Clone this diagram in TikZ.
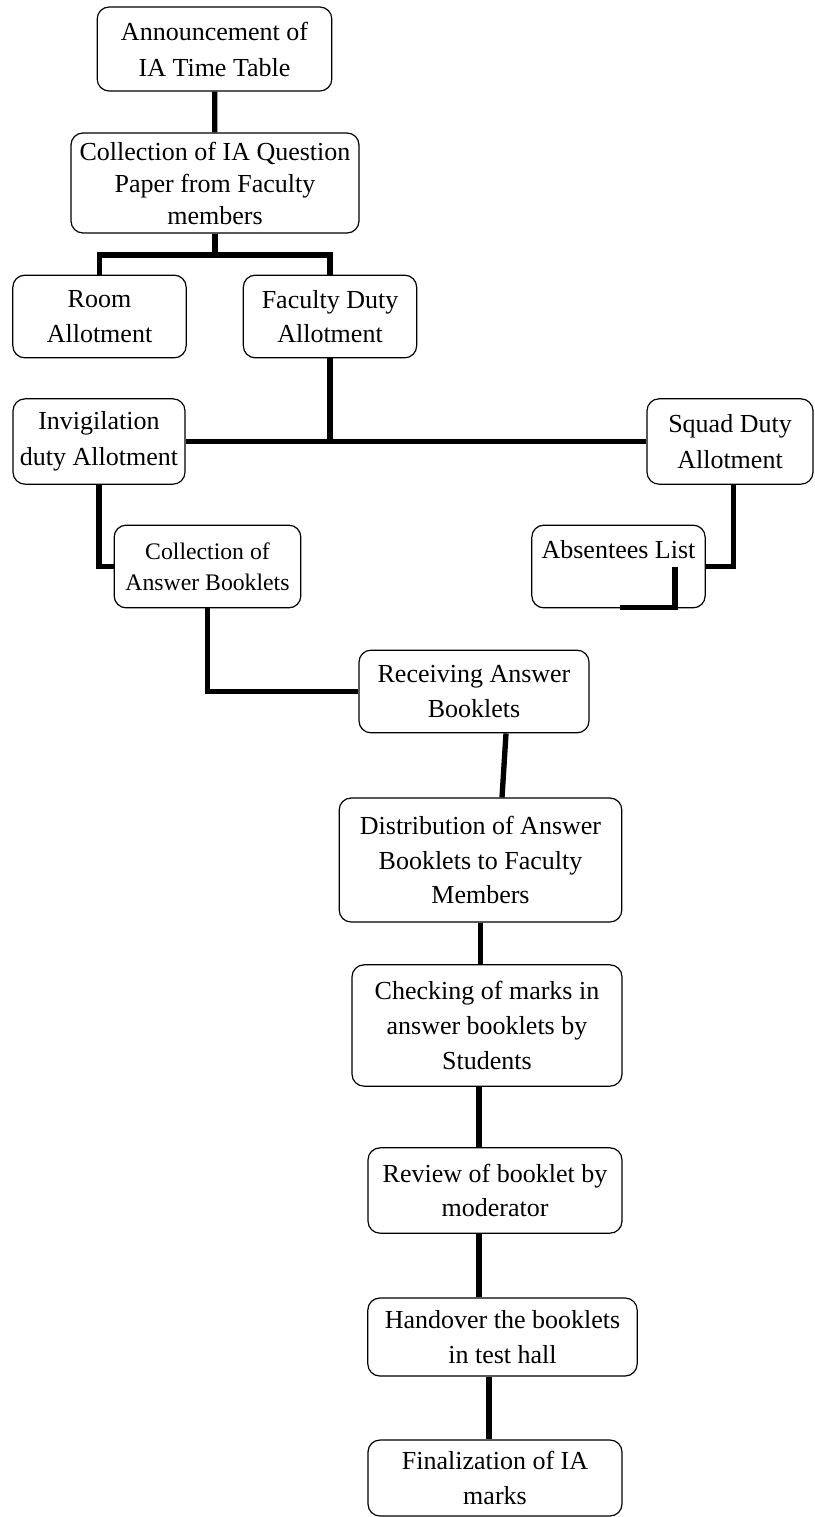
\documentclass[tikz,border=0pt]{standalone}
\usepackage{fontspec}
\setmainfont{Liberation Serif}
\usepackage{tikz}

\begin{document}
\begin{tikzpicture}
  [x=0.75pt,y=-0.75pt,
   every node/.style={draw,rounded corners=9pt,line width=0.9pt,align=center,inner sep=0pt,
     font=\fontsize{19.5pt}{26pt}\selectfont},
   link/.style={line width=4pt}]
  \useasboundingbox (0,0) rectangle (814,1517);
  \node[minimum width=176pt,minimum height=63pt,font=\fontsize{19.5pt}{27pt}\selectfont] (ann) at (214.5,49) {Announcement of\\IA Time Table};
  \node[minimum width=216pt,minimum height=75pt,font=\fontsize{19.5pt}{24pt}\selectfont] (collq) at (215,183) {Collection of IA Question\\Paper from Faculty\\members};
  \node[minimum width=130pt,minimum height=62pt] (room) at (99.5,316.5) {Room\\Allotment};
  \node[minimum width=130pt,minimum height=62pt] (fac) at (330,316.5) {Faculty Duty\\Allotment};
  \node[minimum width=129pt,minimum height=64pt,font=\fontsize{19.5pt}{27pt}\selectfont] (invig) at (99,441.5) {Invigilation\\duty Allotment};
  \node[minimum width=124.5pt,minimum height=64pt,font=\fontsize{19.5pt}{27pt}\selectfont] (squad) at (730,441.5) {Squad Duty\\Allotment};
  \node[minimum width=140pt,minimum height=62pt,font=\fontsize{17.8pt}{23.5pt}\selectfont] (collab) at (207.5,566.5) {Collection of\\Answer Booklets};
  \node[minimum width=130pt,minimum height=62pt] (absent) at (618.5,566.5) {Absentees List\\\mbox{}};
  \node[minimum width=172.5pt,minimum height=62pt] (recv) at (474,691.5) {Receiving Answer\\Booklets};
  \node[minimum width=212pt,minimum height=93pt] (dist) at (480.5,860) {Distribution of Answer\\Booklets to Faculty\\Members};
  \node[minimum width=202.5pt,minimum height=91pt] (check) at (487,1025.5) {Checking of marks in\\answer booklets by\\Students};
  \node[minimum width=190.5pt,minimum height=64pt] (review) at (495,1190.5) {Review of booklet by\\moderator};
  \node[minimum width=202pt,minimum height=58.5pt] (hand) at (502.5,1337) {Handover the booklets\\in test hall};
  \node[minimum width=190.5pt,minimum height=57pt] (final) at (495,1478) {Finalization of IA\\marks};

  \coordinate (split) at (215,255);
  \draw[link] (ann) -- (collq);
  \draw[link] (collq) -- (split);
  \draw[link] (room.north) |- (split) -| (fac.north);
  \draw[link] (invig) -- (squad);
  \draw[link] (fac.south) -- (fac.south |- invig.east);
  \draw[link] (invig.south) |- (collab.west);
  \draw[link] ([shift={(3.5,0)}]squad.south) |- (absent.east);
  \draw[link] ([shift={(56.5,0)}]absent.center) |- ([shift={(1.5,-1)}]absent.south);
  \draw[link] (collab.south) |- (recv.west);
  \draw[link] ([shift={(32,0)}]recv.south) -- ([shift={(21.5,0)}]dist.north);
  \draw[link] (dist.south) -- (dist.south |- check.north);
  \draw[link] ([shift={(-8,0)}]check.south) -- ([shift={(-16,0)}]review.north);
  \draw[link] ([shift={(-16,0)}]review.south) -- ([shift={(-23.5,0)}]hand.north);
  \draw[link] ([shift={(-13.5,0)}]hand.south) -- ([shift={(-6,0)}]final.north);
\end{tikzpicture}
\end{document}
